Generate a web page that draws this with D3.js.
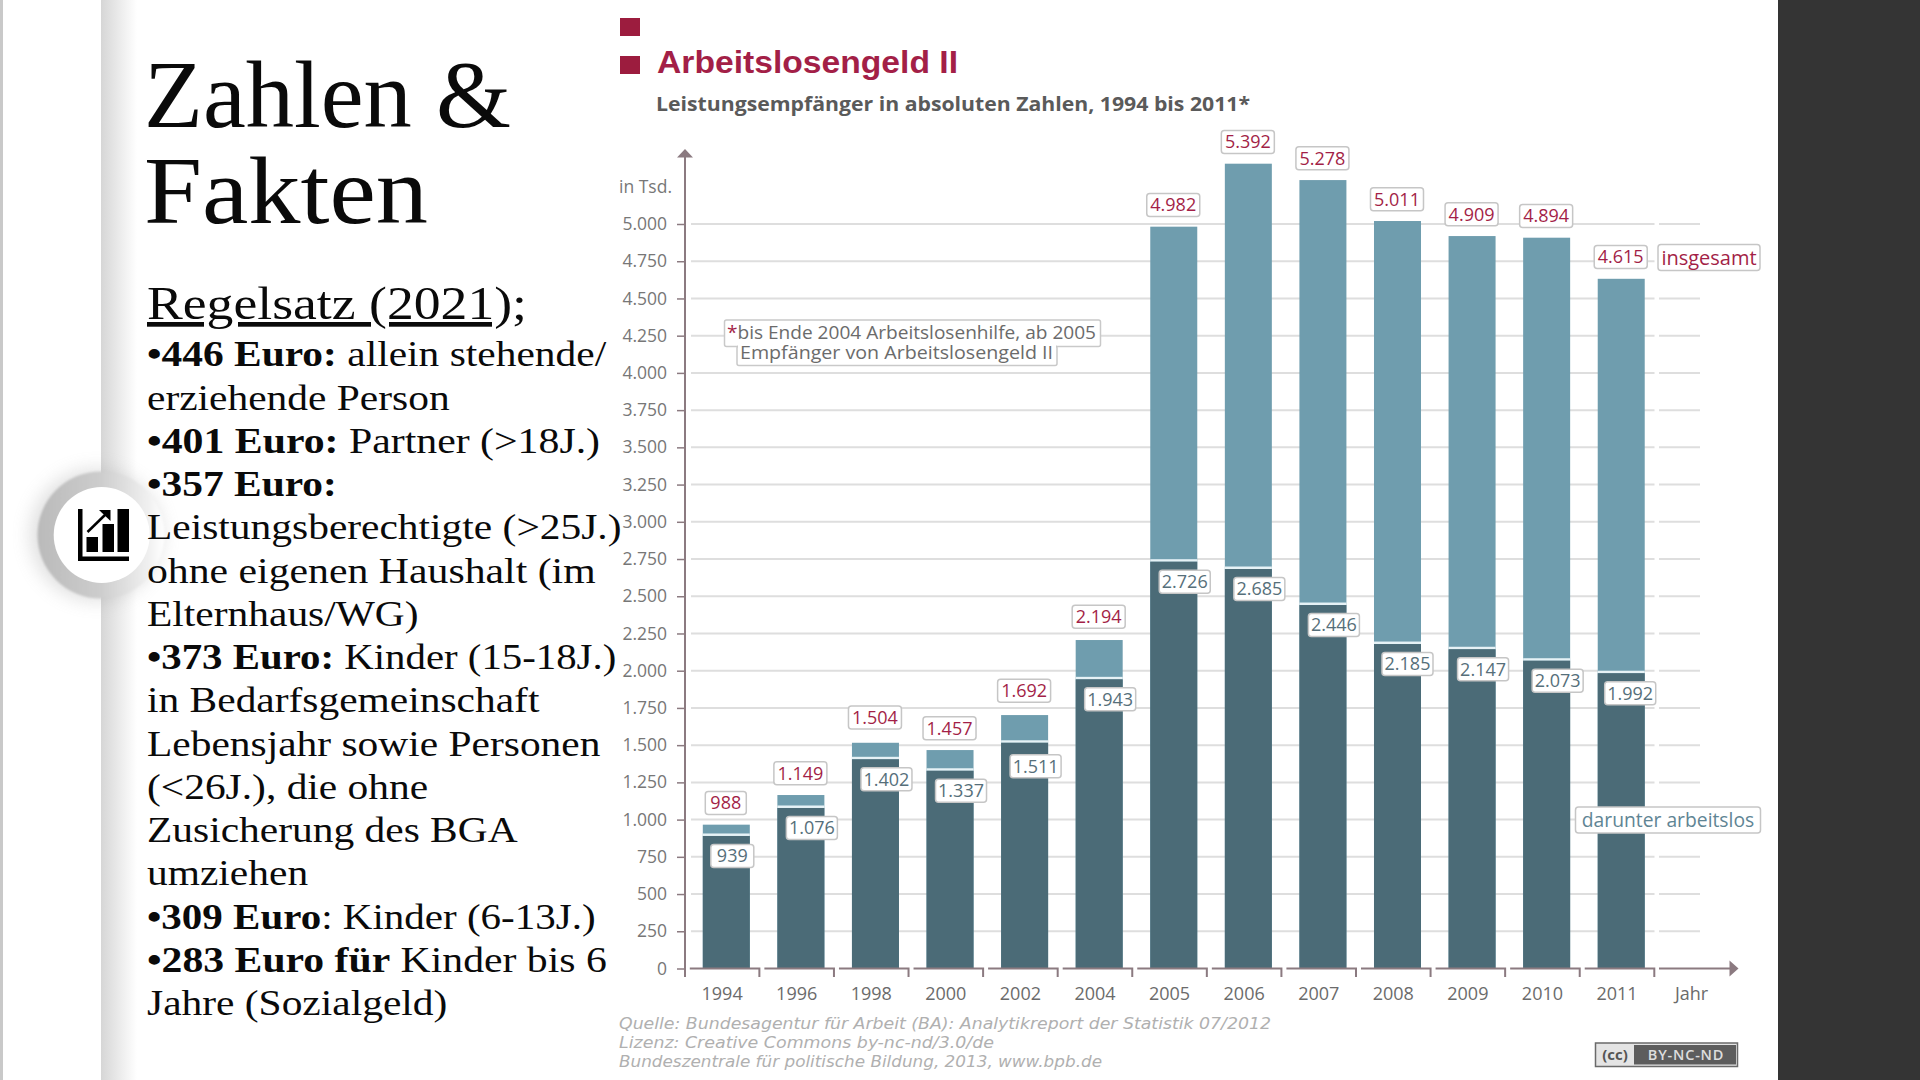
<!DOCTYPE html>
<html>
<head>
<meta charset="utf-8">
<script src="https://cdn.jsdelivr.net/npm/d3@7"></script>
<style>
  html, body { margin: 0; padding: 0; background: #fff; overflow: hidden; }
  svg { display: block; }
  .serif { font-family: "Liberation Serif", serif; fill: #0a0a0a; }
  .chart { font-family: "Open Sans", sans-serif; }
</style>
</head>
<body>
<svg id="slide" width="1920" height="1080"></svg>
<script>
// chart values, in thousands
const years = ["1994", "1996", "1998", "2000", "2002", "2004", "2005", "2006", "2007", "2008", "2009", "2010", "2011"];
const totals = [988, 1149, 1504, 1457, 1692, 2194, 4982, 5392, 5278, 5011, 4909, 4894, 4615];
const unemployed = [939, 1076, 1402, 1337, 1511, 1943, 2726, 2685, 2446, 2185, 2147, 2073, 1992];
// bar heights as drawn in the picture, they differ a little from the printed numbers
const totalBars = [966, 1165, 1516, 1467, 1702, 2206, 4982, 5405, 5295, 5020, 4919, 4908, 4632];
const unemployedBars = [890, 1078, 1405, 1328, 1516, 1942, 2732, 2683, 2441, 2179, 2144, 2067, 1983];
const yTicks = [0, 250, 500, 750, 1000, 1250, 1500, 1750, 2000, 2250, 2500, 2750, 3000, 3250, 3500, 3750, 4000, 4250, 4500, 4750, 5000];

const titleLines = ["Zahlen &", "Fakten"];
const bodyLines = [
  [["•446 Euro:", true], [" allein stehende/", false]],
  [["erziehende Person", false]],
  [["•401 Euro:", true], [" Partner (>18J.)", false]],
  [["•357 Euro:", true]],
  [["Leistungsberechtigte (>25J.)", false]],
  [["ohne eigenen Haushalt (im", false]],
  [["Elternhaus/WG)", false]],
  [["•373 Euro:", true], [" Kinder (15-18J.)", false]],
  [["in Bedarfsgemeinschaft", false]],
  [["Lebensjahr sowie Personen", false]],
  [["(<26J.), die ohne", false]],
  [["Zusicherung des BGA", false]],
  [["umziehen", false]],
  [["•309 Euro", true], [": Kinder (6-13J.)", false]],
  [["•283 Euro für", true], [" Kinder bis 6", false]],
  [["Jahre (Sozialgeld)", false]]
];
const sourceLines = [
  "Quelle: Bundesagentur für Arbeit (BA): Analytikreport der Statistik 07/2012",
  "Lizenz: Creative Commons  by-nc-nd/3.0/de",
  "Bundeszentrale für politische Bildung, 2013, www.bpb.de"
];

const RED = "#a31f47", AXIS = "#8b7a80", LIGHT = "#6f9dae", DARK = "#4b6b77";

const de = d3.formatLocale({ decimal: ",", thousands: ".", grouping: [3], currency: ["", "€"] });
const fmt = de.format(",d");

const svg = d3.select("#slide");
const defs = svg.append("defs");

// ---- slide background
const edge = defs.append("linearGradient").attr("id", "edge");
edge.append("stop").attr("offset", 0).attr("stop-color", "#d6d6d6");
edge.append("stop").attr("offset", 1).attr("stop-color", "#ffffff");
const ring = defs.append("linearGradient").attr("id", "ring");
ring.append("stop").attr("offset", 0).attr("stop-color", "#bababa");
ring.append("stop").attr("offset", 0.5).attr("stop-color", "#cdcdcd");
ring.append("stop").attr("offset", 0.85).attr("stop-color", "#eeeeee");
ring.append("stop").attr("offset", 1).attr("stop-color", "#ffffff");
defs.append("filter").attr("id", "soft").attr("x", "-40%").attr("y", "-40%").attr("width", "180%").attr("height", "180%")
  .append("feGaussianBlur").attr("stdDeviation", 9);
defs.append("filter").attr("id", "edgeBlur").append("feGaussianBlur").attr("stdDeviation", 1.2);

svg.append("rect").attr("width", 3).attr("height", 1080).attr("fill", "#c9c9c9");
svg.append("rect").attr("x", 101).attr("width", 36).attr("height", 1080).attr("fill", "url(#edge)");
svg.append("rect").attr("x", 1778).attr("width", 142).attr("height", 1080).attr("fill", "#343434");

svg.append("circle").attr("cx", 96).attr("cy", 535).attr("r", 66).attr("fill", "#999").attr("opacity", 0.3).attr("filter", "url(#soft)");
svg.append("circle").attr("cx", 101).attr("cy", 535).attr("r", 63.5).attr("fill", "url(#ring)").attr("filter", "url(#edgeBlur)");
svg.append("circle").attr("cx", 101.7).attr("cy", 535).attr("r", 48).attr("fill", "#fff");

const icon = svg.append("g").attr("fill", "#000");
icon.append("rect").attr("x", 78).attr("y", 509).attr("width", 4.5).attr("height", 52);
icon.append("rect").attr("x", 78).attr("y", 556.5).attr("width", 51).attr("height", 4.5);
icon.append("rect").attr("x", 86.5).attr("y", 537).attr("width", 11.5).attr("height", 15);
icon.append("rect").attr("x", 102.5).attr("y", 524).attr("width", 11.5).attr("height", 28);
icon.append("rect").attr("x", 117.5).attr("y", 509).attr("width", 11.5).attr("height", 43);
icon.append("line").attr("x1", 87.5).attr("y1", 532).attr("x2", 107).attr("y2", 513).attr("stroke", "#000").attr("stroke-width", 2.5);
icon.append("path").attr("d", "M99,510 L110.5,510 L110.5,521 Z");

// ---- left text column, Liberation Serif stretched to the wider face of the slide
svg.selectAll(".headline").data(titleLines).join("text")
  .attr("class", "serif headline")
  .attr("x", 144).attr("y", (d, i) => 127 + i * 96)
  .attr("font-size", 96)
  .attr("textLength", (d, i) => i == 0 ? 367 : 284)
  .attr("lengthAdjust", "spacingAndGlyphs")
  .text(d => d);

svg.append("text").attr("class", "serif")
  .attr("x", 147).attr("y", 319)
  .attr("font-size", 47).attr("text-decoration", "underline")
  .attr("textLength", 380).attr("lengthAdjust", "spacingAndGlyphs")
  .text("Regelsatz (2021);");

const rowStretch = { 2: 1.178, 5: 1.176, 7: 1.15, 13: 1.155, 14: 1.175 };
const bodyRows = svg.selectAll(".row").data(bodyLines).join("text")
  .attr("class", "serif row")
  .attr("transform", (d, i) => `translate(147,${366.3 + i * 43.26}) scale(${rowStretch[i] || 1.168},1)`)
  .attr("font-size", 35.5);
bodyRows.selectAll("tspan").data(d => d).join("tspan")
  .attr("font-weight", d => d[1] ? 700 : 400)
  .attr("xml:space", "preserve")
  .text(d => d[0]);

// ---- chart
const y = d3.scaleLinear().domain([0, 5000]).range([968.5, 224]);
const x = d3.scaleBand().domain(years).range([684.8, 1654.3]);
const barOffset = 18, barWidth = 47;
const barCentre = i => x(years[i]) + barOffset + barWidth / 2;

const chart = svg.append("g").attr("class", "chart");

// red squares and headings
chart.selectAll(".sq").data([18, 56]).join("rect")
  .attr("x", 620).attr("y", d => d).attr("width", 20).attr("height", 18).attr("fill", "#9c1c3e");
chart.append("text").attr("x", 657).attr("y", 73)
  .attr("font-family", "Liberation Sans").attr("font-weight", 700).attr("font-size", 31.5).attr("fill", RED)
  .attr("textLength", 301).attr("lengthAdjust", "spacingAndGlyphs")
  .text("Arbeitslosengeld II");
chart.append("text").attr("x", 656).attr("y", 110.5)
  .attr("font-family", "Open Sans").attr("font-weight", 700).attr("font-size", 19.5).attr("fill", "#5a5a5a")
  .attr("textLength", 594).attr("lengthAdjust", "spacingAndGlyphs")
  .text("Leistungsempfänger in absoluten Zahlen, 1994 bis 2011*");

// gridlines, broken in front of the Jahr column
const gridTicks = yTicks.filter(d => d > 0);
[[691, 1654.5], [1659, 1700]].forEach(span => {
  chart.append("g").selectAll("line").data(gridTicks).join("line")
    .attr("x1", span[0]).attr("x2", span[1])
    .attr("y1", d => y(d)).attr("y2", d => y(d))
    .attr("stroke", "#dedede").attr("stroke-width", 2);
});

// bars
chart.append("g").selectAll("rect").data(years).join("rect")
  .attr("x", d => x(d) + barOffset).attr("width", barWidth)
  .attr("y", (d, i) => y(totalBars[i])).attr("height", (d, i) => y(0) - y(totalBars[i]))
  .attr("fill", LIGHT);
chart.append("g").selectAll("rect").data(years).join("rect")
  .attr("x", d => x(d) + barOffset).attr("width", barWidth)
  .attr("y", (d, i) => y(unemployedBars[i]) - 2.5).attr("height", 2.5)
  .attr("fill", "#e6f2f6");
chart.append("g").selectAll("rect").data(years).join("rect")
  .attr("x", d => x(d) + barOffset).attr("width", barWidth)
  .attr("y", (d, i) => y(unemployedBars[i])).attr("height", (d, i) => y(0) - y(unemployedBars[i]))
  .attr("fill", DARK);

// y axis
const yAxis = chart.append("g").attr("transform", "translate(685,0)")
  .call(d3.axisLeft(y).tickValues(yTicks).tickFormat(fmt).tickSize(8).tickPadding(10));
yAxis.select(".domain").remove();
yAxis.selectAll("line").attr("stroke", AXIS).attr("stroke-width", 1.5);
yAxis.selectAll("text").attr("font-family", "Open Sans").attr("font-size", 17.5).attr("fill", "#777");
chart.append("line").attr("x1", 685).attr("x2", 685).attr("y1", 156).attr("y2", 977).attr("stroke", AXIS).attr("stroke-width", 2);
chart.append("path").attr("d", "M685,149 L693,157.5 L677,157.5 Z").attr("fill", AXIS);
chart.append("text").attr("x", 619).attr("y", 193).attr("font-size", 17.5).attr("fill", "#777").text("in Tsd.");

// x axis, one bracket per year
const xAxis = chart.append("g").attr("transform", "translate(0,968.5)")
  .call(d3.axisBottom(x).tickSize(0).tickPadding(19));
xAxis.select(".domain").remove();
xAxis.selectAll("text").attr("font-family", "Open Sans").attr("font-size", 18).attr("fill", "#6b6b6b");
chart.append("g").selectAll("path").data(years).join("path")
  .attr("d", d => `M${x(d) + 5},968.5 H${x(d) + x.bandwidth()} V977`)
  .attr("fill", "none").attr("stroke", AXIS).attr("stroke-width", 2);
chart.append("line").attr("x1", 1659).attr("x2", 1730).attr("y1", 968.5).attr("y2", 968.5).attr("stroke", AXIS).attr("stroke-width", 2);
chart.append("path").attr("d", "M1729.5,960.5 L1738.5,968.5 L1729.5,976.5 Z").attr("fill", AXIS);
chart.append("text").attr("x", 1691.5).attr("y", 1000).attr("text-anchor", "middle").attr("font-size", 18).attr("fill", "#6b6b6b").text("Jahr");

// boxed labels
function boxedLabel(parent, cx, cy, w, h, label, colour, size) {
  parent.append("rect").attr("x", cx - w / 2).attr("y", cy - h / 2).attr("width", w).attr("height", h)
    .attr("rx", 3).attr("fill", "#fff").attr("stroke", "#c6c6c6").attr("stroke-width", 1.5);
  parent.append("text").attr("x", cx).attr("y", cy).attr("dy", "0.35em").attr("text-anchor", "middle")
    .attr("font-size", size || 18).attr("fill", colour).text(label);
}
// a few labels sit slightly off the regular distance from their bar
const totalNudge = { "1998": -3.5, "2002": -2.5, "2004": -1.5 };
const lowerDrop = { "2002": 3.5 };
const lowerShift = { "2008": -1, "2011": -2 };
years.forEach((yr, i) => {
  const w = totals[i] < 1000 ? 41 : 53;
  boxedLabel(chart, barCentre(i) - 0.5, y(totalBars[i]) - 21.7 + (totalNudge[yr] || 0), w, 23, fmt(totals[i]), RED);
});
years.forEach((yr, i) => {
  const w = unemployed[i] < 1000 ? 43 : 51;
  const shift = (unemployed[i] < 1000 ? 6 : 11) + (lowerShift[yr] || 0);
  boxedLabel(chart, barCentre(i) + shift, y(unemployedBars[i]) + 20 + (lowerDrop[yr] || 0), w, 23, fmt(unemployed[i]), "#566f7a");
});
boxedLabel(chart, 1709, 257.5, 102, 26, "insgesamt", RED, 20);
boxedLabel(chart, 1668, 820, 185, 26, "darunter arbeitslos", "#5f8594", 19.3);

// footnote box
chart.append("rect").attr("x", 724.5).attr("y", 320).attr("width", 376).attr("height", 26.5)
  .attr("rx", 2).attr("fill", "#fff").attr("stroke", "#c9c9c9").attr("stroke-width", 1.5);
chart.append("rect").attr("x", 737).attr("y", 346).attr("width", 320).attr("height", 19.5)
  .attr("rx", 2).attr("fill", "#fff").attr("stroke", "#c9c9c9").attr("stroke-width", 1.5);
chart.append("rect").attr("x", 738).attr("y", 340).attr("width", 318).attr("height", 10).attr("fill", "#fff");
const note = chart.append("text").attr("x", 727).attr("y", 339).attr("font-size", 18).attr("fill", "#6b6b6b")
  .attr("textLength", 369).attr("lengthAdjust", "spacingAndGlyphs");
note.append("tspan").attr("fill", RED).text("*");
note.append("tspan").text("bis Ende 2004 Arbeitslosenhilfe, ab 2005");
chart.append("text").attr("x", 740).attr("y", 358.5).attr("font-size", 18).attr("fill", "#6b6b6b")
  .attr("textLength", 313).attr("lengthAdjust", "spacingAndGlyphs")
  .text("Empfänger von Arbeitslosengeld II");

// source lines
chart.selectAll(".src").data(sourceLines).join("text")
  .attr("class", "src").attr("x", 619).attr("y", (d, i) => 1028.5 + i * 19.3)
  .attr("font-family", "DejaVu Sans").attr("font-size", 16).attr("font-style", "italic").attr("fill", "#b0b0b0")
  .attr("textLength", (d, i) => [652, 375, 483][i]).attr("lengthAdjust", "spacingAndGlyphs")
  .text(d => d);

// CC badge
const badge = chart.append("g");
badge.append("rect").attr("x", 1595.5).attr("y", 1043).attr("width", 142).attr("height", 23.5)
  .attr("fill", "#e4e4e4").attr("stroke", "#6a6a6a").attr("stroke-width", 1.5);
badge.append("rect").attr("x", 1634).attr("y", 1045).attr("width", 102).attr("height", 19.5).attr("fill", "#5d5d5d");
badge.append("text").attr("x", 1615).attr("y", 1060).attr("text-anchor", "middle")
  .attr("font-size", 15).attr("font-weight", 700).attr("fill", "#555").text("(cc)");
badge.append("text").attr("x", 1686).attr("y", 1060).attr("text-anchor", "middle")
  .attr("font-size", 14.5).attr("font-weight", 600).attr("letter-spacing", 0.8).attr("fill", "#ddd").text("BY-NC-ND");
</script>
</body>
</html>
